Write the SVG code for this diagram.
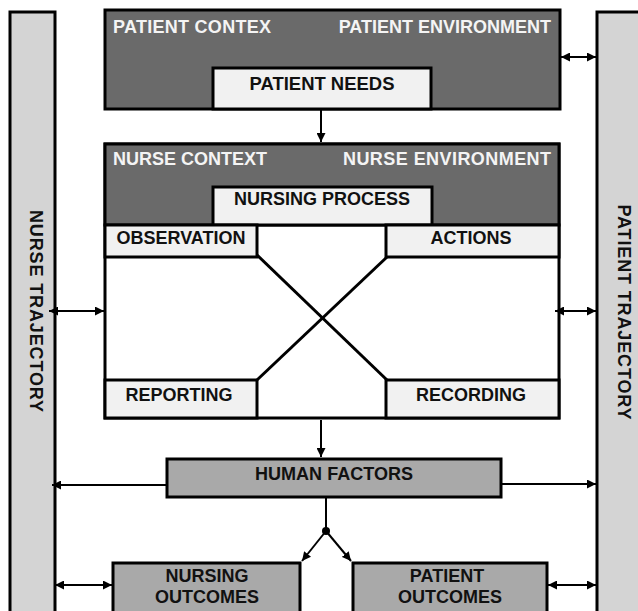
<svg xmlns="http://www.w3.org/2000/svg" width="638" height="611" viewBox="0 0 638 611">
  <defs>
    <style>
      .bar { fill: #d4d4d4; stroke: #000; stroke-width: 3; }
      .dark { fill: #6a6a6a; stroke: #000; stroke-width: 3; }
      .light { fill: #f1f1f1; stroke: #000; stroke-width: 3; }
      .plain { fill: #ffffff; stroke: #000; stroke-width: 3; }
      .mid { fill: #a9a9a9; stroke: #000; stroke-width: 3; }
      .txt { font-family: "Liberation Sans", Arial, sans-serif; font-size: 18px; font-weight: bold; fill: #111; }
      .wt { fill: #f4f4f4; }
      .mdl { text-anchor: middle; }
      .end { text-anchor: end; }
      .link { fill: none; stroke: #000; stroke-width: 2; }
      .cross { fill: none; stroke: #000; stroke-width: 3; }
    </style>
    <marker id="head" viewBox="0 0 10 10" refX="10" refY="5" markerUnits="userSpaceOnUse" markerWidth="9" markerHeight="9" orient="auto-start-reverse">
      <path d="M0,0 L10,5 L0,10 z" fill="#000"/>
    </marker>
  </defs>

  <rect width="638" height="611" fill="#ffffff"/>

  <!-- side trajectories -->
  <g id="nurse-trajectory">
    <rect class="bar" x="10" y="12" width="45" height="620"/>
    <text class="txt mdl" transform="translate(36,311) rotate(90)" x="0" y="6.5" textLength="202" lengthAdjust="spacing">NURSE  TRAJECTORY</text>
  </g>
  <g id="patient-trajectory">
    <rect class="bar" x="597" y="12" width="52" height="620"/>
    <text class="txt mdl" transform="translate(624,312) rotate(90)" x="0" y="6.5" textLength="215" lengthAdjust="spacing">PATIENT  TRAJECTORY</text>
  </g>

  <!-- patient context -->
  <g id="patient-context">
    <rect class="dark" x="105" y="10" width="455" height="99"/>
    <text class="txt wt" x="113" y="33" textLength="158" lengthAdjust="spacing">PATIENT CONTEX</text>
    <text class="txt wt end" x="551" y="33">PATIENT ENVIRONMENT</text>
  </g>
  <g id="patient-needs">
    <rect class="light" x="213" y="68" width="218" height="41"/>
    <text class="txt mdl" x="322" y="90" textLength="145" lengthAdjust="spacingAndGlyphs">PATIENT NEEDS</text>
  </g>

  <!-- nurse context and nursing process -->
  <g id="nurse-context">
    <rect class="plain" x="105" y="144" width="454" height="274"/>
    <rect class="dark" x="105" y="144" width="454" height="81"/>
    <text class="txt wt" x="113" y="165">NURSE CONTEXT</text>
    <text class="txt wt" x="343" y="165" textLength="208" lengthAdjust="spacing">NURSE  ENVIRONMENT</text>
  </g>
  <g id="nursing-process">
    <rect class="light" x="213" y="187" width="219" height="38"/>
    <text class="txt mdl" x="322" y="205">NURSING PROCESS</text>
  </g>
  <g id="observation">
    <rect class="light" x="105" y="225" width="152" height="32"/>
    <text class="txt mdl" x="181" y="244">OBSERVATION</text>
  </g>
  <g id="actions">
    <rect class="light" x="386" y="225" width="173" height="32"/>
    <text class="txt mdl" x="471" y="244">ACTIONS</text>
  </g>
  <g id="reporting">
    <rect class="light" x="105" y="380" width="152" height="38"/>
    <text class="txt mdl" x="179" y="401">REPORTING</text>
  </g>
  <g id="recording">
    <rect class="light" x="386" y="380" width="173" height="38"/>
    <text class="txt mdl" x="471" y="401">RECORDING</text>
  </g>

  <!-- human factors and outcomes -->
  <g id="human-factors">
    <rect class="mid" x="167" y="459" width="334" height="38"/>
    <text class="txt mdl" x="334" y="480" textLength="158" lengthAdjust="spacingAndGlyphs">HUMAN FACTORS</text>
  </g>
  <g id="nursing-outcomes">
    <rect class="mid" x="113" y="563" width="187" height="60"/>
    <text class="txt mdl" x="207" y="582">NURSING</text>
    <text class="txt mdl" x="207" y="603">OUTCOMES</text>
  </g>
  <g id="patient-outcomes">
    <rect class="mid" x="353" y="563" width="194" height="60"/>
    <text class="txt mdl" x="447" y="582">PATIENT</text>
    <text class="txt mdl" x="450" y="603">OUTCOMES</text>
  </g>

  <!-- connectors -->
  <g id="connectors">
    <!-- crossing lines inside the nursing process -->
    <line class="cross" x1="257" y1="255" x2="387" y2="380"/>
    <line class="cross" x1="387" y1="257" x2="257" y2="380"/>

    <!-- flow down the middle -->
    <line class="link" x1="321" y1="109" x2="321" y2="142" stroke-width="1.6" marker-end="url(#head)"/>
    <line class="link" x1="321" y1="420" x2="321" y2="457" stroke-width="1.6" marker-end="url(#head)"/>
    <line class="link" x1="326" y1="497" x2="326" y2="531" stroke-width="1.6"/>
    <circle cx="326" cy="531" r="4" fill="#000"/>
    <line class="link" x1="326" y1="531" x2="302" y2="561" stroke-width="1.6" marker-end="url(#head)"/>
    <line class="link" x1="326" y1="531" x2="351" y2="561" stroke-width="1.6" marker-end="url(#head)"/>

    <!-- links to the trajectories -->
    <line class="link" x1="561" y1="57" x2="596" y2="57" stroke-width="2.5" marker-start="url(#head)" marker-end="url(#head)"/>
    <line class="link" x1="49" y1="311" x2="104" y2="311" stroke-width="2.5" marker-start="url(#head)" marker-end="url(#head)"/>
    <line class="link" x1="555" y1="311" x2="596" y2="311" stroke-width="2.5" marker-start="url(#head)" marker-end="url(#head)"/>
    <line class="link" x1="166" y1="485" x2="52" y2="485" stroke-width="1.6" marker-end="url(#head)"/>
    <line class="link" x1="502" y1="484" x2="596" y2="484" stroke-width="1.6" marker-end="url(#head)"/>
    <line class="link" x1="55" y1="585" x2="112" y2="585" stroke-width="2.5" marker-start="url(#head)" marker-end="url(#head)"/>
    <line class="link" x1="548" y1="585" x2="596" y2="585" stroke-width="2.5" marker-start="url(#head)" marker-end="url(#head)"/>
  </g>
</svg>
